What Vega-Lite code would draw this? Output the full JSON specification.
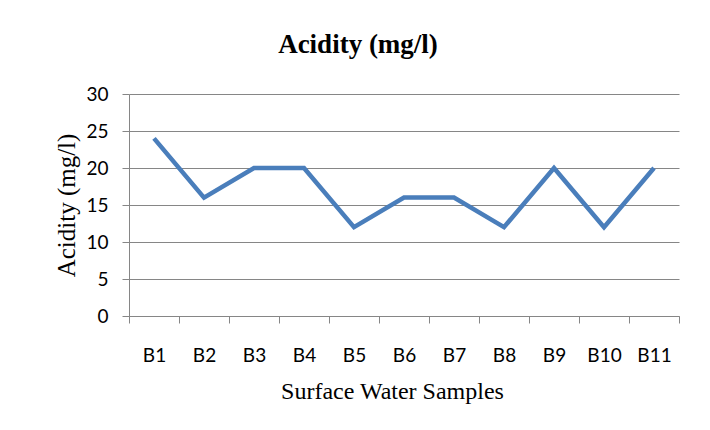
{
  "$schema": "https://vega.github.io/schema/vega-lite/v6.json",
  "width": 550,
  "height": 222,
  "autosize": {"type": "none"},
  "padding": {"left": 129, "top": 94, "right": 31, "bottom": 114},
  "background": "white",
  "title": {
    "text": "Acidity (mg/l)",
    "font": "Liberation Serif",
    "fontSize": 27,
    "fontWeight": "bold",
    "color": "#000000",
    "anchor": "middle",
    "dx": -46,
    "offset": 26
  },
  "data": {
    "values": [
      {"sample": "B1", "acidity": 24},
      {"sample": "B2", "acidity": 16},
      {"sample": "B3", "acidity": 20},
      {"sample": "B4", "acidity": 20},
      {"sample": "B5", "acidity": 12},
      {"sample": "B6", "acidity": 16},
      {"sample": "B7", "acidity": 16},
      {"sample": "B8", "acidity": 12},
      {"sample": "B9", "acidity": 20},
      {"sample": "B10", "acidity": 12},
      {"sample": "B11", "acidity": 20}
    ]
  },
  "mark": {"type": "line", "color": "#4A7EBB", "strokeWidth": 4.5},
  "encoding": {
    "x": {
      "field": "sample",
      "type": "nominal",
      "sort": null,
      "scale": {"type": "band", "paddingInner": 0, "paddingOuter": 0},
      "axis": {
        "title": "Surface Water Samples",
        "titleFont": "Liberation Serif",
        "titleFontSize": 24,
        "titleFontWeight": "normal",
        "titleColor": "#000000",
        "titlePadding": 14,
        "titleX": 263,
        "labelFont": "Lato",
        "labelFontSize": 19,
        "labelColor": "#000000",
        "labelAngle": 0,
        "labelPadding": 23,
        "tickBand": "extent",
        "tickSize": 7,
        "tickColor": "#868686",
        "domainColor": "#868686",
        "grid": false
      }
    },
    "y": {
      "field": "acidity",
      "type": "quantitative",
      "scale": {"domain": [0, 30], "nice": false},
      "axis": {
        "title": "Acidity (mg/l)",
        "titleFont": "Liberation Serif",
        "titleFontSize": 25,
        "titleFontWeight": "normal",
        "titleColor": "#000000",
        "titlePadding": 6,
        "values": [0, 5, 10, 15, 20, 25, 30],
        "labelFont": "Lato",
        "labelFontSize": 19,
        "labelColor": "#000000",
        "labelPadding": 14,
        "tickSize": 7,
        "tickColor": "#868686",
        "domainColor": "#868686",
        "gridColor": "#868686",
        "gridOpacity": 1
      }
    }
  },
  "config": {"view": {"stroke": null}}
}
